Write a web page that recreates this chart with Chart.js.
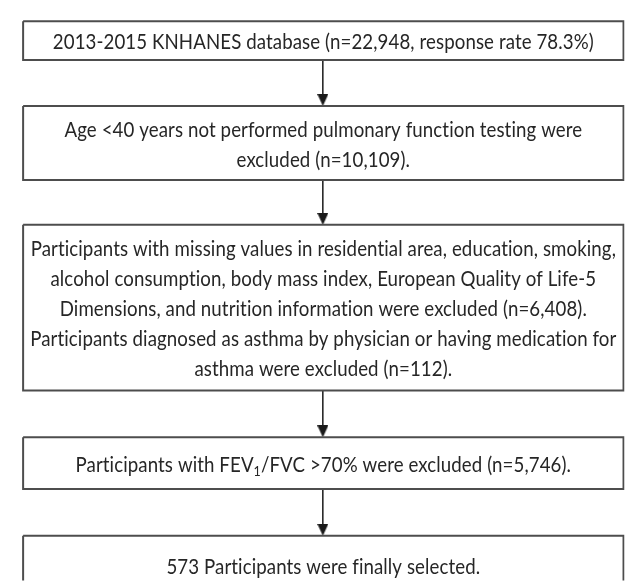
<!DOCTYPE html>
<html>
<head>
<meta charset="utf-8">
<script src="https://cdn.jsdelivr.net/npm/chart.js@4.4.1/dist/chart.umd.min.js"></script>
<style>
  html, body { margin: 0; padding: 0; background: #fff; }
  #wrap { width: 632px; height: 588px; }
</style>
</head>
<body>
<div id="wrap"><canvas id="flowChart" width="632" height="588"></canvas></div>
<script>
// Texto de cada paso (una entrada por línea, _{..} = subíndice)
const stepText = [
  ["2013-2015 KNHANES database (n=22,948, response rate 78.3%)"],
  ["Age <40 years not performed pulmonary function testing were",
   "excluded (n=10,109)."],
  ["Participants with missing values in residential area, education, smoking,",
   "alcohol consumption, body mass index, European Quality of Life-5",
   "Dimensions, and nutrition information were excluded (n=6,408).",
   "Participants diagnosed as asthma by physician or having medication for",
   "asthma were excluded (n=112)."],
  ["Participants with FEV_{1}/FVC >70% were excluded (n=5,746)."],
  ["573 Participants were finally selected."]
];
// Participantes en cada paso
const stepCounts = [22948, 10109, 6520, 5746, 573];

// Layout del diagrama en unidades de los ejes
const boxTop = [14, 101, 223, 441, 542];
const boxBottom = [54, 177, 393, 494, 602];
const boxLeft = 16, boxRight = 631, arrowX = 323;
const lineGap = 30;

// Punta de flecha (triángulo hacia abajo)
const headW = 11, headH = 12;
const arrowHead = document.createElement("canvas");
arrowHead.width = headW;
arrowHead.height = headH;
{
  const c = arrowHead.getContext("2d");
  c.fillStyle = "#1a1a1a";
  c.beginPath();
  c.moveTo(0, 0);
  c.lineTo(headW, 0);
  c.lineTo(headW / 2, headH);
  c.closePath();
  c.fill();
}

const boxSets = stepText.map((t, i) => ({
  label: "box" + i,
  data: [
    { x: boxLeft, y: boxTop[i] }, { x: boxRight, y: boxTop[i] },
    { x: boxRight, y: boxBottom[i] }, { x: boxLeft, y: boxBottom[i] },
    { x: boxLeft, y: boxTop[i] }
  ],
  showLine: true,
  borderColor: "#4d4d4d",
  borderWidth: 2,
  borderJoinStyle: "miter",
  pointRadius: 0,
  fill: false,
  tension: 0
}));

const arrowSets = stepText.slice(1).map((t, i) => ({
  label: "arrow" + i,
  data: [{ x: arrowX, y: boxBottom[i] }, { x: arrowX, y: boxTop[i + 1] - headH / 2 }],
  showLine: true,
  borderColor: "#1a1a1a",
  borderWidth: 1.5,
  pointRadius: [0, 6],
  pointStyle: [false, arrowHead],
  fill: false
}));

const FONT = "Lato, sans-serif";
const fontSize = 21;
const firstLineWidth = 541; // ancho del primer texto en la figura

// Dibuja una línea, con soporte de subíndices
const drawRich = (ctx, str, cx, cy, sx) => {
  const parts = str.split(/(_\{[^}]*\})/).filter((p) => p.length);
  const big = fontSize + "px " + FONT;
  const small = Math.round(fontSize * 0.68) + "px " + FONT;
  let total = 0;
  parts.forEach((p) => {
    ctx.font = p.startsWith("_{") ? small : big;
    total += ctx.measureText(p.startsWith("_{") ? p.slice(2, -1) : p).width;
  });
  ctx.save();
  ctx.translate(cx, cy);
  ctx.scale(sx, 1);
  let x = -total / 2;
  parts.forEach((p) => {
    const sub = p.startsWith("_{");
    const s = sub ? p.slice(2, -1) : p;
    ctx.font = sub ? small : big;
    ctx.fillText(s, x, sub ? fontSize * 0.3 : 0);
    x += ctx.measureText(s).width;
  });
  ctx.restore();
};

const textPlugin = {
  id: "stepText",
  afterDatasetsDraw(chart) {
    const { ctx, scales } = chart;
    ctx.save();
    // sin ligaduras (ti, fi)
    ctx.textRendering = "optimizeSpeed";
    ctx.letterSpacing = "0.1px";
    ctx.fillStyle = "#262626";
    ctx.textBaseline = "middle";
    ctx.textAlign = "left";
    ctx.font = fontSize + "px " + FONT;
    const sx = firstLineWidth / ctx.measureText(stepText[0][0]).width;
    const cx = scales.x.getPixelForValue((boxLeft + boxRight) / 2);
    stepText.forEach((lines, i) => {
      const cy = (scales.y.getPixelForValue(boxTop[i]) + scales.y.getPixelForValue(boxBottom[i])) / 2;
      lines.forEach((ln, j) => {
        drawRich(ctx, ln, cx, cy + (j - (lines.length - 1) / 2) * lineGap + 2, sx);
      });
    });
    ctx.restore();
  }
};

new Chart(document.getElementById("flowChart").getContext("2d"), {
  type: "scatter",
  data: { datasets: [...boxSets, ...arrowSets] },
  options: {
    responsive: false,
    animation: false,
    layout: { padding: 0 },
    plugins: { legend: { display: false }, tooltip: { enabled: false } },
    scales: {
      x: { type: "linear", min: 0, max: 632, display: false },
      y: { type: "linear", min: 0, max: 588, reverse: true, display: false }
    }
  },
  plugins: [textPlugin]
});
</script>
</body>
</html>
